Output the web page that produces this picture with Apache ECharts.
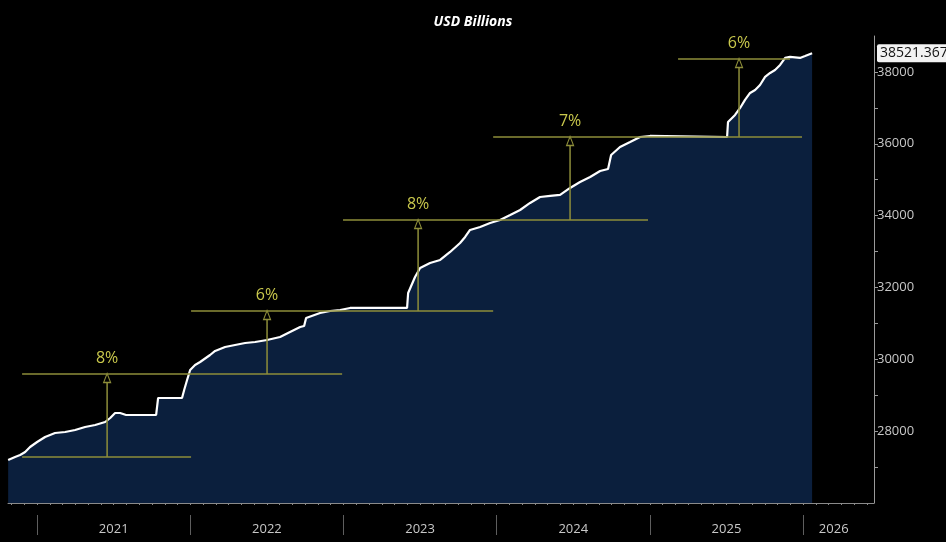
<!DOCTYPE html>
<html><head><meta charset="utf-8">
<script src="https://cdn.jsdelivr.net/npm/echarts@6/dist/echarts.min.js"></script>
<style>html,body{margin:0;padding:0;background:#000}#c{width:946px;height:542px}</style>
</head><body><div id="c"></div>
<script>
// Decimal years (x) and debt in USD billions (y)
const years = [2020.811,2020.856,2020.889,2020.922,2020.954,2021.000,2021.052,2021.117,2021.183,2021.248,2021.313,2021.379,2021.444,2021.477,2021.509,2021.542,2021.581,2021.777,2021.790,2021.946,2021.960,2021.979,2021.999,2022.031,2022.064,2022.129,2022.162,2022.227,2022.292,2022.358,2022.423,2022.501,2022.586,2022.651,2022.717,2022.743,2022.756,2022.847,2022.913,2022.978,2023.043,2023.415,2023.422,2023.467,2023.500,2023.565,2023.631,2023.696,2023.761,2023.794,2023.826,2023.892,2023.957,2024.022,2024.088,2024.153,2024.218,2024.283,2024.349,2024.414,2024.479,2024.544,2024.610,2024.675,2024.727,2024.747,2024.805,2024.871,2024.936,2025.001,2025.504,2025.510,2025.556,2025.589,2025.621,2025.654,2025.687,2025.719,2025.752,2025.785,2025.817,2025.850,2025.883,2025.915,2025.980,2026.013,2026.059];
const debt = [27197,27281,27336,27420,27559,27698,27837,27949,27977,28032,28116,28172,28255,28366,28506,28506,28450,28450,28923,28923,29146,29424,29703,29842,29925,30120,30232,30343,30399,30454,30482,30538,30621,30761,30900,30928,31150,31290,31345,31373,31429,31429,31846,32292,32542,32682,32765,32988,33238,33405,33600,33684,33795,33879,34018,34157,34352,34519,34547,34575,34770,34937,35076,35243,35299,35688,35911,36050,36189,36217,36189,36607,36802,36997,37220,37414,37498,37637,37860,37971,38055,38194,38389,38417,38389,38444,38521.3672];
const lastLabel = '38521.3672';

// Reference levels (horizontal guide lines)
const levelStart = [2020.902,2020.902,2022.005,2022.997,2023.977,2025.184];
const levelEnd   = [2022.005,2022.991,2023.977,2024.988,2025.993,2025.915];
const levelValue = [27281,29591,31345,33879,36189,38361];

// Growth arrows
const arrowX    = [2021.457,2022.501,2023.487,2024.479,2025.582];
const arrowLow  = [27281,29591,31345,33879,36189];
const arrowHigh = [29591,31345,33879,36189,38361];
const arrowText = ['8%','6%','8%','7%','6%'];

const yearTicks = [2021,2022,2023,2024,2025,2026];
const yearLabelPos = [2021.5,2022.5,2023.5,2024.5,2025.5,2026.2];
const yLabels = [28000,30000,32000,34000,36000,38000];

const X_MIN = 2020.81, X_MAX = 2026.463;
const olive = '#8e8e3a', labelYellow = '#c9c84c';

const monthTicks = [];
for (let y = 2020; y <= 2026; y++) for (let m = 0; m < 12; m++) {
  const v = y + m / 12; if (v >= X_MIN && v <= X_MAX) monthTicks.push(v);
}
const yTicks = [];
for (let v = 27000; v <= 38000; v += 1000) yTicks.push(v);

const series = [{
  type: 'line', data: years.map((x, i) => [x, debt[i]]),
  symbol: 'none', lineStyle: {color: '#ffffff', width: 2.2},
  areaStyle: {color: '#0b1f3d', origin: 'start', opacity: 1},
  z: 2, silent: true,
  markLine: {
    silent: true, symbol: 'none',
    lineStyle: {color: 'rgba(0,0,0,0)', width: 0},
    data: [{yAxis: debt[debt.length - 1]}],
    label: {show: true, position: 'end', distance: 3, formatter: lastLabel, backgroundColor: '#f2f2f2',
      color: '#111', fontSize: 14, fontFamily: 'Open Sans', padding: [2, 3], borderRadius: 2}
  }
}];
levelValue.forEach((v, i) => {
  series.push({type: 'line', data: [[levelStart[i], v], [levelEnd[i], v]], symbol: 'none',
    lineStyle: {color: olive, width: 1.5}, z: 3, silent: true});
});
arrowX.forEach((x, i) => {
  series.push({type: 'line', z: 4, silent: true,
    data: [{value: [x, arrowLow[i]], symbol: 'none'},
      {value: [x, arrowHigh[i]], symbol: 'triangle', symbolSize: [7, 9], symbolOffset: [0, 4],
        label: {show: true, position: 'top', distance: 6, formatter: arrowText[i], color: labelYellow,
          fontSize: 16, fontFamily: 'Open Sans'}}],
    showSymbol: true,
    lineStyle: {color: olive, width: 1.5},
    itemStyle: {color: '#000', borderColor: olive, borderWidth: 1.2}
  });
});

const chart = echarts.init(document.getElementById('c'), null, {renderer: 'canvas'});
chart.setOption({
  backgroundColor: '#000',
  animation: false,
  title: {text: 'USD Billions', left: 'center', top: 10,
    textStyle: {color: '#fff', fontSize: 14, fontStyle: 'italic', fontWeight: 'bold', fontFamily: 'Open Sans'}},
  grid: {left: 8, right: 72, top: 36, bottom: 39},
  xAxis: [{
    type: 'value', min: X_MIN, max: X_MAX, position: 'bottom',
    axisLine: {show: true, lineStyle: {color: '#8a8a8a', width: 1}},
    axisTick: {show: true, customValues: monthTicks, length: 2, lineStyle: {color: '#8a8a8a'}},
    axisLabel: {show: false}, splitLine: {show: false}
  }, {
    type: 'value', min: X_MIN, max: X_MAX, position: 'bottom', offset: 12,
    axisLine: {show: false},
    axisTick: {show: true, customValues: yearTicks, length: 20, lineStyle: {color: '#5e5e5e', width: 1}},
    axisLabel: {show: true, customValues: yearLabelPos, formatter: v => String(Math.floor(v)),
      color: '#c8c8c8', fontSize: 13, fontFamily: 'Open Sans', margin: 8},
    splitLine: {show: false}
  }],
  yAxis: {
    type: 'value', position: 'right', min: 26000, max: 39000,
    axisLine: {show: true, lineStyle: {color: '#9a9a9a', width: 1}},
    axisTick: {show: true, customValues: yTicks, length: 4, lineStyle: {color: '#9a9a9a'}},
    axisLabel: {customValues: yLabels, formatter: v => String(v), color: '#c8c8c8', fontSize: 13,
      fontFamily: 'Open Sans', margin: 3},
    splitLine: {show: false}
  },
  series: series
});
</script></body></html>
